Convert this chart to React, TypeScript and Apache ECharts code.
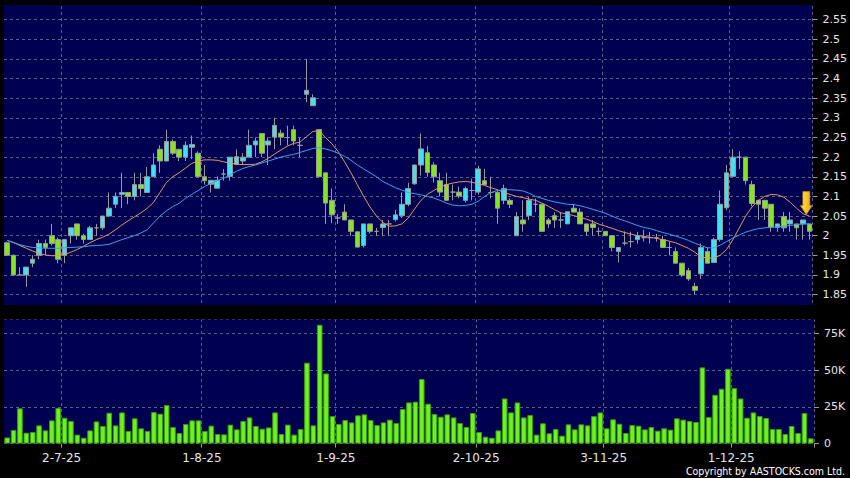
import React, { useEffect, useRef } from "react";
import * as echarts from "echarts";

// ---- categories: HK trading days 18-6-25 .. 17-12-25 ----
const START_DAY = [2025, 5, 18]; // year, month index, day
const HOLIDAYS = ["1-7-25", "1-10-25", "7-10-25", "29-10-25"];
const DAY_COUNT = 127;
const TICK_LABELS = ["2-7-25", "1-8-25", "1-9-25", "2-10-25", "3-11-25", "1-12-25"];

function buildDates(): string[] {
  const out: string[] = [];
  const d = new Date(Date.UTC(START_DAY[0], START_DAY[1], START_DAY[2]));
  while (out.length < DAY_COUNT) {
    const wd = d.getUTCDay();
    const s = `${d.getUTCDate()}-${d.getUTCMonth() + 1}-${String(d.getUTCFullYear()).slice(2)}`;
    if (wd !== 0 && wd !== 6 && !HOLIDAYS.includes(s)) out.push(s);
    d.setUTCDate(d.getUTCDate() + 1);
  }
  return out;
}
const dates = buildDates();

// ---- daily candles: [open, close, low, high] ----
const ohlc: number[][] = [
  [1.982, 1.95, 1.948, 1.985], [1.95, 1.9, 1.898, 1.952], [1.9, 1.9, 1.9, 1.92], [1.9, 1.92, 1.87, 1.92],
  [1.93, 1.94, 1.92, 1.95], [1.95, 1.98, 1.94, 1.99], [1.98, 1.97, 1.95, 1.99], [2.0, 1.98, 1.975, 2.03],
  [1.99, 1.94, 1.93, 1.995], [1.95, 1.99, 1.93, 1.99], [2.0, 2.02, 1.98, 2.02], [2.03, 2.0, 1.99, 2.03],
  [2.0, 1.99, 1.98, 2.005], [1.99, 2.02, 1.99, 2.025], [2.02, 2.02, 2.0, 2.03], [2.02, 2.05, 2.015, 2.05],
  [2.05, 2.07, 2.05, 2.11], [2.08, 2.1, 2.07, 2.11], [2.105, 2.11, 2.07, 2.16], [2.11, 2.1, 2.08, 2.11],
  [2.1, 2.13, 2.09, 2.16], [2.13, 2.12, 2.1, 2.16], [2.11, 2.15, 2.11, 2.175], [2.15, 2.18, 2.15, 2.21],
  [2.22, 2.19, 2.16, 2.23], [2.19, 2.24, 2.19, 2.27], [2.24, 2.21, 2.205, 2.245], [2.22, 2.2, 2.19, 2.22],
  [2.2, 2.23, 2.19, 2.24], [2.225, 2.232, 2.195, 2.255], [2.21, 2.15, 2.15, 2.215], [2.15, 2.14, 2.13, 2.18],
  [2.131, 2.141, 2.11, 2.141], [2.121, 2.141, 2.12, 2.151], [2.157, 2.157, 2.14, 2.17], [2.151, 2.2, 2.14, 2.2],
  [2.181, 2.201, 2.18, 2.22], [2.19, 2.2, 2.18, 2.21], [2.2, 2.23, 2.2, 2.27], [2.231, 2.241, 2.2, 2.25],
  [2.26, 2.21, 2.2, 2.26], [2.231, 2.241, 2.18, 2.25], [2.251, 2.281, 2.22, 2.3], [2.261, 2.251, 2.23, 2.27],
  [2.25, 2.25, 2.23, 2.28], [2.27, 2.241, 2.23, 2.28], [2.23, 2.23, 2.2, 2.25], [2.36, 2.37, 2.34, 2.45],
  [2.331, 2.351, 2.33, 2.36], [2.27, 2.15, 2.15, 2.27], [2.16, 2.083, 2.03, 2.16], [2.09, 2.053, 2.032, 2.12],
  [2.045, 2.045, 2.03, 2.055], [2.06, 2.04, 2.04, 2.08], [2.04, 2.011, 2.0, 2.04], [2.01, 1.971, 1.97, 2.01],
  [1.975, 2.03, 1.97, 2.03], [2.03, 2.011, 2.005, 2.03], [2.011, 2.011, 2.0, 2.02], [2.021, 2.03, 2.0, 2.04],
  [2.03, 2.03, 2.0, 2.04], [2.041, 2.053, 2.036, 2.066], [2.051, 2.08, 2.045, 2.11], [2.08, 2.12, 2.075, 2.135],
  [2.132, 2.18, 2.13, 2.18], [2.18, 2.221, 2.153, 2.26], [2.211, 2.161, 2.15, 2.228], [2.18, 2.15, 2.135, 2.187],
  [2.14, 2.111, 2.1, 2.16], [2.13, 2.09, 2.09, 2.16], [2.111, 2.111, 2.09, 2.13], [2.111, 2.101, 2.095, 2.125],
  [2.09, 2.12, 2.085, 2.125], [2.115, 2.115, 2.09, 2.145], [2.111, 2.17, 2.105, 2.178], [2.14, 2.13, 2.128, 2.17],
  [2.11, 2.11, 2.095, 2.15], [2.11, 2.07, 2.03, 2.115], [2.09, 2.12, 2.08, 2.13], [2.09, 2.08, 2.07, 2.095],
  [2.0, 2.049, 2.0, 2.06], [2.04, 2.03, 2.01, 2.09], [2.051, 2.09, 2.04, 2.098], [2.08, 2.08, 2.06, 2.095],
  [2.08, 2.011, 2.01, 2.08], [2.04, 2.03, 2.02, 2.045], [2.051, 2.04, 2.02, 2.06], [2.04, 2.04, 2.02, 2.06],
  [2.03, 2.061, 2.03, 2.061], [2.07, 2.06, 2.06, 2.08], [2.06, 2.03, 2.03, 2.07], [2.03, 2.011, 2.0, 2.03],
  [2.03, 2.021, 2.0, 2.04], [2.011, 2.011, 2.0, 2.021], [2.011, 2.0, 2.0, 2.011], [2.0, 1.97, 1.96, 2.0],
  [1.96, 1.97, 1.932, 1.97], [1.981, 1.981, 1.975, 2.011], [1.985, 1.985, 1.97, 2.01], [1.99, 2.0, 1.98, 2.01],
  [1.995, 1.995, 1.985, 2.015], [1.995, 1.995, 1.98, 2.01], [1.995, 1.995, 1.985, 2.005], [1.99, 1.97, 1.97, 2.0],
  [1.97, 1.97, 1.95, 1.985], [1.96, 1.93, 1.93, 1.97], [1.93, 1.9, 1.895, 1.93], [1.911, 1.89, 1.885, 1.918],
  [1.871, 1.861, 1.851, 1.88], [1.903, 1.97, 1.89, 1.98], [1.96, 1.93, 1.93, 1.97], [1.932, 1.99, 1.93, 1.995],
  [1.99, 2.08, 1.985, 2.115], [2.071, 2.16, 2.065, 2.18], [2.151, 2.2, 2.15, 2.22], [2.2, 2.2, 2.17, 2.215],
  [2.2, 2.14, 2.13, 2.2], [2.13, 2.082, 2.075, 2.14], [2.09, 2.08, 2.04, 2.09], [2.09, 2.07, 2.04, 2.09],
  [2.08, 2.022, 2.01, 2.08], [2.021, 2.03, 2.01, 2.03], [2.049, 2.02, 2.01, 2.06], [2.03, 2.04, 2.01, 2.06],
  [2.03, 2.02, 1.99, 2.03], [2.03, 2.04, 1.99, 2.04], [2.03, 2.011, 1.99, 2.03],
];

// ---- moving averages ----
const maShort: number[] = [
  1.988, 1.983, 1.975, 1.968, 1.961, 1.955, 1.951, 1.949, 1.949, 1.952,
  1.958, 1.965, 1.973, 1.982, 1.99, 1.996, 2.004, 2.015, 2.027, 2.038,
  2.048, 2.058, 2.07, 2.085, 2.11, 2.135, 2.15, 2.16, 2.172, 2.184,
  2.19, 2.193, 2.193, 2.192, 2.188, 2.185, 2.182, 2.181, 2.181, 2.182,
  2.188, 2.197, 2.208, 2.218, 2.228, 2.235, 2.238, 2.252, 2.265, 2.268,
  2.25, 2.234, 2.214, 2.188, 2.16, 2.13, 2.1, 2.073, 2.05, 2.034,
  2.024, 2.025, 2.03, 2.045, 2.068, 2.09, 2.105, 2.115, 2.124, 2.13,
  2.134, 2.137, 2.138, 2.136, 2.132, 2.128, 2.122, 2.117, 2.11, 2.105,
  2.1, 2.097, 2.093, 2.09, 2.083, 2.075, 2.066, 2.058, 2.055, 2.051,
  2.047, 2.042, 2.036, 2.029, 2.024, 2.019, 2.013, 2.008, 2.004, 2.0,
  1.998, 1.996, 1.993, 1.99, 1.986, 1.982, 1.975, 1.968, 1.958, 1.946,
  1.943, 1.943, 1.95, 1.965, 1.99, 2.02, 2.05, 2.073, 2.09, 2.1,
  2.105, 2.104, 2.098, 2.085, 2.07, 2.056, 2.05,
];
const maLong: number[] = [
  1.988, 1.982, 1.977, 1.973, 1.97, 1.969, 1.968, 1.968, 1.968, 1.969,
  1.97, 1.971, 1.972, 1.974, 1.975, 1.976, 1.978, 1.984, 1.99, 1.995,
  2.0, 2.007, 2.015, 2.033, 2.05, 2.063, 2.074, 2.082, 2.095, 2.105,
  2.115, 2.125, 2.133, 2.14, 2.146, 2.155, 2.164, 2.171, 2.176, 2.18,
  2.185, 2.19, 2.195, 2.2, 2.204, 2.207, 2.212, 2.217, 2.222, 2.224,
  2.221, 2.216, 2.21, 2.202, 2.192, 2.18, 2.17, 2.16, 2.15, 2.138,
  2.13, 2.122, 2.116, 2.11, 2.107, 2.104, 2.1, 2.096, 2.09, 2.083,
  2.078, 2.076, 2.077, 2.08, 2.088, 2.1, 2.11, 2.115, 2.117, 2.117,
  2.116, 2.114, 2.108, 2.1, 2.095, 2.09, 2.086, 2.083, 2.08, 2.079,
  2.076, 2.072, 2.067, 2.062, 2.057, 2.05, 2.043, 2.038, 2.032, 2.026,
  2.021, 2.018, 2.013, 2.008, 2.004, 1.999, 1.994, 1.988, 1.981, 1.975,
  1.969, 1.969, 1.976, 1.985, 1.994, 2.002, 2.009, 2.014, 2.018, 2.02,
  2.021, 2.023, 2.024, 2.026, 2.028, 2.03, 2.03,
];

// ---- volume, thousands of shares ----
const volumeK: number[] = [
  4.2, 9.3, 24.0, 7.4, 7.9, 12.4, 9.0, 15.8, 24.2, 17.6,
  15.4, 6.1, 4.0, 9.0, 15.1, 12.0, 21.0, 12.4, 21.2, 8.6,
  17.2, 10.4, 8.6, 21.4, 20.3, 26.2, 11.3, 7.2, 13.3, 15.8,
  15.8, 8.6, 12.2, 6.5, 6.3, 12.9, 9.7, 15.4, 17.8, 12.0,
  10.1, 11.0, 21.2, 6.5, 12.9, 6.1, 9.9, 55.0, 12.4, 80.8,
  47.7, 18.7, 13.3, 16.0, 14.4, 19.2, 19.9, 16.0, 12.6, 14.4,
  16.3, 14.0, 23.5, 28.0, 28.5, 43.9, 27.1, 20.1, 18.3, 19.9,
  17.8, 14.0, 11.3, 20.8, 7.9, 4.7, 4.0, 9.0, 30.7, 21.2,
  28.0, 17.8, 19.4, 6.1, 13.8, 7.0, 9.9, 5.4, 13.1, 9.7,
  13.1, 12.4, 18.7, 21.2, 10.4, 16.5, 13.5, 7.2, 12.6, 12.2,
  9.7, 11.3, 8.8, 10.4, 9.5, 17.2, 16.3, 15.4, 14.7, 51.8,
  18.1, 33.2, 37.3, 50.9, 37.7, 30.7, 17.6, 21.2, 18.7, 17.4,
  9.9, 9.9, 6.5, 12.0, 7.2, 20.8, 3.6,
];

const ARROW_LEVEL = 2.083;
const PRICE_MIN = 1.8;
const PRICE_MAX = 2.6;
const PRICE_STEP = 0.05;
const VOL_MAX = 84700;
const VOL_STEP = 25000;

const NAVY = "#000050";
const GRID_LINE = "#5e5e8e";
const LABEL = "#e4e4e4";
const FONT = "DejaVu Sans";

const isTickDay = (_i: number, v: string) => TICK_LABELS.includes(v);

export default function App() {
  const ref = useRef<HTMLDivElement>(null);
  useEffect(() => {
    if (!ref.current) return;
    const chart = echarts.init(ref.current, undefined, { renderer: "svg" });
    const dashed = { color: GRID_LINE, type: [3, 3] as number[], width: 1 };
    const option: any = {
      animation: false,
      backgroundColor: "#000000",
      grid: [
        { left: 4, width: 810, top: -4.95, height: 319.2, show: true, backgroundColor: NAVY, borderWidth: 0 },
        { left: 4, width: 810, top: 319, height: 124.6, show: true, backgroundColor: NAVY, borderWidth: 0 },
      ],
      xAxis: [
        {
          type: "category", gridIndex: 0, data: dates, boundaryGap: true,
          axisLine: { show: false }, axisTick: { show: false }, axisLabel: { show: false },
          splitLine: { show: true, interval: isTickDay, lineStyle: dashed },
        },
        {
          type: "category", gridIndex: 1, data: dates, boundaryGap: true,
          axisLine: { show: false },
          axisTick: { show: true, interval: isTickDay, length: 4, lineStyle: { color: "#9a9a9a" } },
          axisLabel: {
            interval: isTickDay, color: LABEL, fontSize: 12, fontFamily: FONT, margin: 8,
            padding: [0, 6, 0, 0],
          },
          splitLine: { show: true, interval: isTickDay, lineStyle: dashed },
        },
      ],
      yAxis: [
        {
          type: "value", gridIndex: 0, position: "right", min: PRICE_MIN, max: PRICE_MAX, interval: PRICE_STEP,
          axisLine: { show: false },
          axisTick: { show: true, length: 5, lineStyle: { color: "#9a9a9a" } },
          axisLabel: { showMinLabel: false, showMaxLabel: false, color: LABEL, fontSize: 11, fontFamily: FONT, margin: 10 },
          splitLine: { show: true, lineStyle: dashed },
        },
        {
          type: "value", gridIndex: 1, position: "right", min: 0, max: VOL_MAX, interval: VOL_STEP,
          axisLine: { show: false },
          axisTick: { show: true, length: 5, lineStyle: { color: "#9a9a9a" } },
          axisLabel: {
            showMaxLabel: false, color: LABEL, fontSize: 11, fontFamily: FONT, margin: 10,
            formatter: (v: number) => (v === 0 ? "0" : `${Math.round(v / 1000)}K`),
          },
          splitLine: { show: true, lineStyle: dashed },
        },
      ],
      series: [
        {
          type: "candlestick", name: "price", xAxisIndex: 0, yAxisIndex: 0, data: ohlc, barWidth: "80%", z: 2,
          itemStyle: {
            color: "#3ee3f2", color0: "#86e61e",
            borderColor: "#9a9a9a", borderColor0: "#9a9a9a", borderWidth: 1,
          },
          markPoint: {
            silent: true,
            symbol: "path://M2.5,0 L9.5,0 L9.5,14 L12,14 L6,23 L0,14 L2.5,14 Z",
            symbolSize: [12, 23],
            symbolOffset: [-3, 0],
            label: { show: false },
            itemStyle: {
              color: new echarts.graphic.LinearGradient(0, 0, 1, 0, [
                { offset: 0, color: "#ffe45a" },
                { offset: 1, color: "#f0a400" },
              ]),
              borderColor: "#c88400", borderWidth: 0.6,
            },
            data: [{ coord: [dates[dates.length - 1], ARROW_LEVEL] }],
          },
        },
        {
          type: "line", name: "ma-short", xAxisIndex: 0, yAxisIndex: 0, data: maShort, symbol: "none", z: 3,
          lineStyle: { color: "#e3966a", width: 1 },
        },
        {
          type: "line", name: "ma-long", xAxisIndex: 0, yAxisIndex: 0, data: maLong, symbol: "none", z: 3,
          lineStyle: { color: "#3ca2ea", width: 1 },
        },
        {
          type: "bar", name: "volume", xAxisIndex: 1, yAxisIndex: 1, barWidth: "88%",
          data: volumeK.map((v) => v * 1000),
          itemStyle: { color: "#6cf21c", borderColor: "#3c9a0e", borderWidth: 1 },
        },
      ],
      graphic: [
        { type: "rect", z: 100, silent: true, shape: { x: 0, y: -10, width: 850, height: 15 }, style: { fill: "#000000" } },
        { type: "rect", z: 100, silent: true, shape: { x: 0, y: 305, width: 850, height: 14.4 }, style: { fill: "#000000" } },
        {
          type: "text", z: 100, silent: true, x: 845, y: 471,
          style: {
            text: "Copyright by AASTOCKS.com Ltd.", fill: "#ffffff",
            font: "10.5px 'DejaVu Sans Condensed', 'DejaVu Sans'",
            textAlign: "right", textVerticalAlign: "middle",
          },
        },
      ],
    };
    chart.setOption(option);
    return () => chart.dispose();
  }, []);
  return (
    <div style={{ position: "fixed", left: 0, top: 0, width: 850, height: 478, background: "#000" }}>
      <div ref={ref} style={{ width: 850, height: 478 }} />
    </div>
  );
}
